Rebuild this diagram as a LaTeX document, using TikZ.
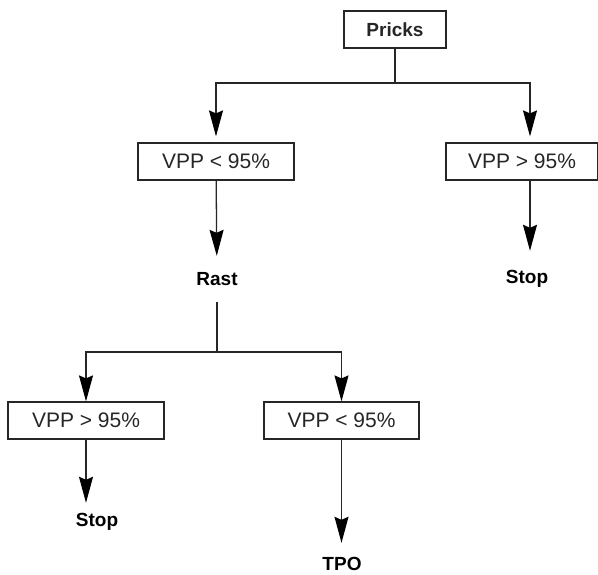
\documentclass[tikz,border=0pt]{standalone}
\usepackage{fontspec}
\setmainfont{Liberation Sans}
\usepackage{tikz}
\usetikzlibrary{arrows.meta}
\tikzset{
  flowline/.style = {line width=1.3pt,black!85},
  flowarr/.style  = {flowline,-{Stealth[length=26pt,width=14pt,inset=3pt,black]}},
  testbox/.style  = {draw,line width=1.2pt,black!85,rectangle,inner sep=0pt,
                     minimum height=37pt,font=\fontsize{21}{24}\selectfont},
  outcome/.style  = {inner sep=0pt,text height=14pt,text depth=4pt,
                     font=\fontsize{19}{22}\selectfont\bfseries}
}

\begin{document}
\begin{tikzpicture}[x=1pt,y=-1pt]
  \useasboundingbox (0,0) rectangle (598,574);
  \node[testbox,minimum width=102pt,font=\fontsize{19}{22}\selectfont\bfseries]
    (pricks) at (395,29.5) {Pricks};
  \node[testbox,minimum width=156pt] (lt)     at (216,161.5) {VPP < 95\%};
  \node[testbox,minimum width=152pt] (rt)     at (522,161.5) {VPP > 95\%};
  \node[outcome] (rast)  at (217,280) {Rast};
  \node[outcome] (stopa) at (527,278) {Stop};
  \node[testbox,minimum width=156pt] (lb)     at (86,420.5)    {VPP > 95\%};
  \node[testbox,minimum width=155pt] (rb)     at (341.5,420.5) {VPP < 95\%};
  \node[outcome] (stopb) at (97,521)  {Stop};
  \node[outcome] (tpo)   at (342,565) {TPO};
  \coordinate (fork1) at (395,83);
  \coordinate (fork2) at (217,352);
  \draw[flowline] (pricks) -- (fork1);
  \draw[flowarr,shorten >=6pt] (fork1) -| (lt);
  \draw[flowarr,shorten >=6pt] (fork1) -| ([xshift=8pt]rt.north);
  \draw[flowarr,shorten >=15pt] (lt) -- (rast);
  \draw[flowarr,shorten >=18pt] ([xshift=8pt]rt.south) -- ([xshift=8pt]rt.south |- stopa.north);
  \draw[flowline,shorten <=13pt] (rast) -- (fork2);
  \draw[flowarr] (fork2) -| (lb);
  \draw[flowarr] (fork2) -| (rb);
  \draw[flowarr,shorten >=9pt] (lb.south) -- (lb.south |- stopb.north);
  \draw[flowarr,shorten >=13pt] (rb) -- (rb |- tpo.north);
\end{tikzpicture}
\end{document}
